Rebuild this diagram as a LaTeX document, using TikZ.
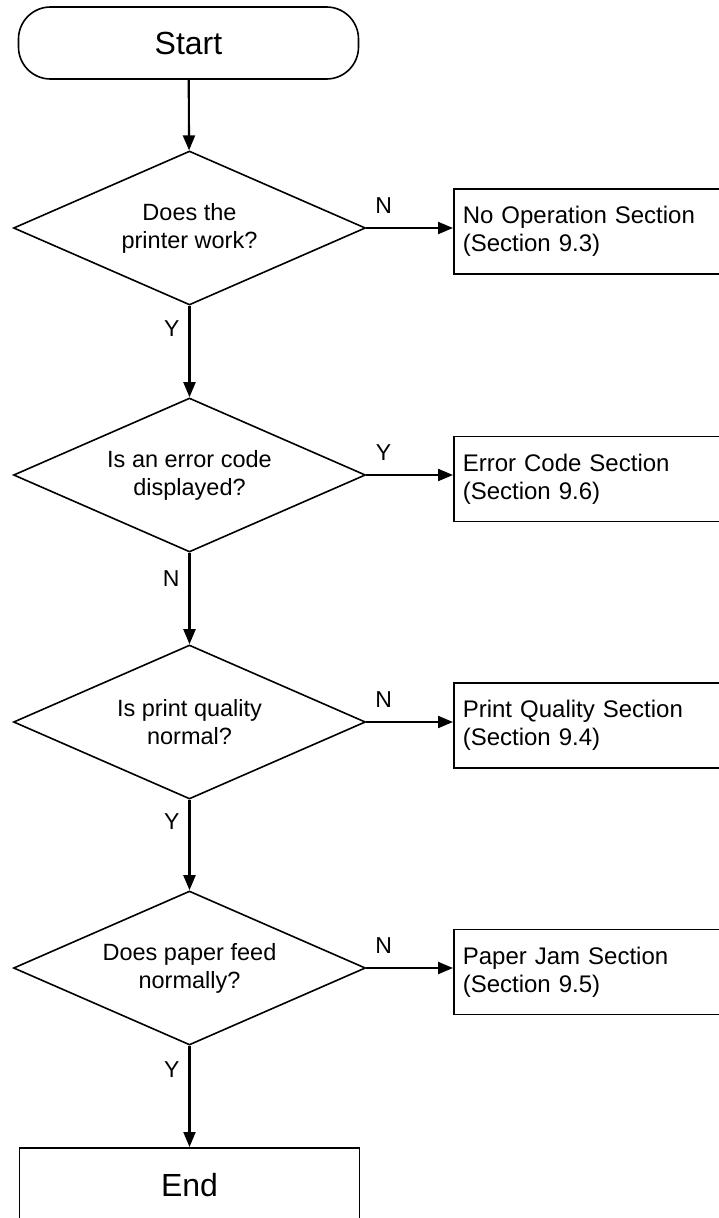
\documentclass[tikz,border=0pt]{standalone}
\usepackage{fontspec}
\setmainfont{Liberation Sans}
\usetikzlibrary{shapes.geometric, arrows.meta}

\begin{document}
\begin{tikzpicture} [x = 1pt, y = -1pt,
	flow/.style = {line width = 2.1pt, -{Triangle[length = 15pt, width = 12pt]}},
	decision/.style = {draw, diamond, aspect = 2.29, line width = 1.6pt, minimum width = 352pt, minimum height = 154pt, inner sep = 0pt, align = center, font = \fontsize{23.5}{28}\selectfont},
	section/.style = {draw, rectangle, line width = 1.6pt, anchor = west, minimum height = 85pt, text width = 252pt, inner xsep = 9pt, align = left, font = \fontsize{24}{28}\selectfont},
	terminal/.style = {draw, rectangle, line width = 1.6pt, minimum width = 340pt, font = \fontsize{32}{38}\selectfont},
	answer/.style = {inner sep = 0pt, font = \fontsize{23}{28}\selectfont}]
	\useasboundingbox (0,0) rectangle (719,1218);
	\node [terminal, rounded corners = 32pt, minimum height = 72pt] (start) at (188.5,43) {Start};
	\node [decision] (q1) at (189.5,228) {Does the\\printer work?};
	\node [decision] (q2) at (189.5,475) {Is an error code\\displayed?};
	\node [decision] (q3) at (189.5,722) {Is print quality\\normal?};
	\node [decision] (q4) at (189.5,968) {Does paper feed\\normally?};
	\node [terminal, minimum height = 74pt, anchor = north] (end) at (189.5,1147) {End};
	\node [section] (s1) at (453,231.5) {No Operation Section\\(Section 9.3)};
	\node [section] (s2) at (453,479) {Error Code Section\\(Section 9.6)};
	\node [section] (s3) at (453,725.5) {Print Quality Section\\(Section 9.4)};
	\node [section] (s4) at (453,972) {Paper Jam Section\\(Section 9.5)};
	\draw [flow] (start) -- (q1);
	\draw [flow] (q1) -- node [answer, pos = 0.25, left = 9pt] {Y} (q2);
	\draw [flow] (q2) -- node [answer, pos = 0.28, left = 9pt] {N} (q3);
	\draw [flow] (q3) -- node [answer, pos = 0.24, left = 9pt] {Y} (q4);
	\draw [flow] (q4) -- node [answer, pos = 0.23, left = 9pt] {Y} (end);
	\draw [flow] (q1.east) -- node [answer, pos = 0.2, above = 13pt] {N} (q1.east -| s1.west);
	\draw [flow] (q2.east) -- node [answer, pos = 0.2, above = 13pt] {Y} (q2.east -| s2.west);
	\draw [flow] (q3.east) -- node [answer, pos = 0.2, above = 13pt] {N} (q3.east -| s3.west);
	\draw [flow] (q4.east) -- node [answer, pos = 0.2, above = 13pt] {N} (q4.east -| s4.west);
\end{tikzpicture}
\end{document}
